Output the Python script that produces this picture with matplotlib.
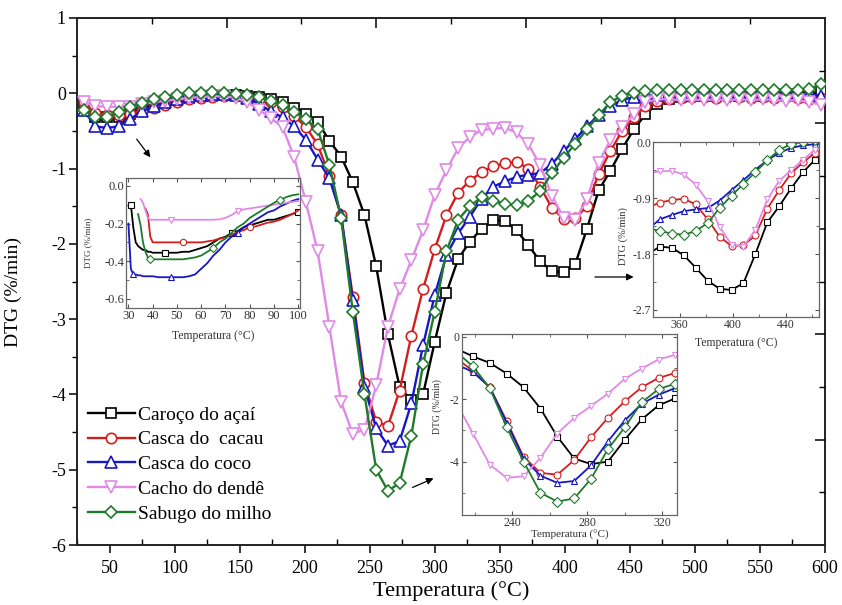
import numpy as np
import matplotlib
matplotlib.use("Agg")
import matplotlib.pyplot as plt
from matplotlib.ticker import MultipleLocator, FixedLocator, FormatStrFormatter

plt.rcParams['font.family'] = ['Liberation Serif', 'DejaVu Serif']
plt.rcParams['axes.unicode_minus'] = False

# ---------------- main DTG curves (°C, %/min) ----------------
temp = [30, 39, 48, 57, 66, 75, 84, 93, 102, 111, 120, 129, 138, 147, 156, 165,
        174, 183, 192, 201, 210, 219, 228, 237, 246, 255, 264, 273, 282, 291, 300, 309,
        318, 327, 336, 345, 354, 363, 372, 381, 390, 399, 408, 417, 426, 435, 444, 453,
        462, 471, 480, 489, 498, 507, 516, 525, 534, 543, 552, 561, 570, 579, 588, 597]

acai = [-0.15, -0.31, -0.32, -0.31, -0.27, -0.22, -0.17, -0.13, -0.09, -0.06, -0.04, -0.03, -0.02, -0.02, -0.03, -0.05,
        -0.08, -0.12, -0.19, -0.27, -0.38, -0.63, -0.84, -1.18, -1.62, -2.30, -3.20, -3.90, -4.08, -4.00, -3.30, -2.65,
        -2.20, -1.97, -1.80, -1.68, -1.70, -1.82, -2.02, -2.23, -2.36, -2.38, -2.27, -1.80, -1.29, -1.03, -0.74, -0.48,
        -0.28, -0.14, -0.08, -0.05, -0.04, -0.03, -0.03, -0.02, -0.03, -0.02, -0.03, -0.02, -0.03, -0.04, -0.05, 0.03]

cacau = [-0.12, -0.26, -0.29, -0.29, -0.27, -0.23, -0.19, -0.15, -0.11, -0.08, -0.06, -0.05, -0.04, -0.04, -0.05, -0.07,
         -0.11, -0.18, -0.30, -0.45, -0.68, -1.10, -1.62, -2.70, -3.85, -4.36, -4.42, -3.95, -3.22, -2.60, -2.07, -1.62,
         -1.32, -1.16, -1.05, -0.97, -0.93, -0.91, -1.00, -1.24, -1.52, -1.67, -1.66, -1.50, -1.07, -0.77, -0.50, -0.32,
         -0.17, -0.10, -0.07, -0.06, -0.05, -0.05, -0.06, -0.05, -0.05, -0.06, -0.05, -0.06, -0.05, -0.06, -0.07, -0.06]

coco = [-0.22, -0.44, -0.46, -0.44, -0.34, -0.24, -0.17, -0.11, -0.07, -0.04, -0.02, -0.01, -0.01, -0.02, -0.06, -0.14,
        -0.24, -0.32, -0.44, -0.62, -0.88, -1.13, -1.62, -2.75, -3.90, -4.45, -4.68, -4.62, -4.12, -3.35, -2.68, -2.15,
        -1.86, -1.64, -1.40, -1.24, -1.17, -1.11, -1.08, -1.06, -0.94, -0.77, -0.61, -0.44, -0.29, -0.17, -0.09, -0.05,
        -0.03, -0.02, -0.01, -0.01, 0.00, -0.01, 0.00, -0.01, 0.00, -0.01, 0.00, -0.01, 0.00, -0.01, -0.02, -0.03]

dende = [-0.12, -0.17, -0.18, -0.18, -0.18, -0.14, -0.12, -0.10, -0.08, -0.06, -0.05, -0.04, -0.04, -0.06, -0.12, -0.22,
         -0.33, -0.45, -0.85, -1.45, -2.10, -3.10, -4.10, -4.52, -4.47, -3.88, -3.10, -2.60, -2.22, -1.82, -1.35, -1.02,
         -0.73, -0.58, -0.49, -0.47, -0.46, -0.52, -0.68, -0.95, -1.36, -1.65, -1.68, -1.41, -0.92, -0.62, -0.45, -0.28,
         -0.12, -0.08, -0.08, -0.09, -0.08, -0.09, -0.08, -0.09, -0.08, -0.09, -0.08, -0.09, -0.10, -0.09, -0.12, -0.15]

milho = [-0.22, -0.32, -0.31, -0.25, -0.18, -0.13, -0.08, -0.05, -0.02, 0.00, 0.01, 0.015, 0.01, -0.01, -0.02, -0.05,
         -0.10, -0.16, -0.25, -0.34, -0.48, -0.95, -1.65, -2.90, -4.00, -5.00, -5.28, -5.18, -4.55, -3.60, -2.90, -2.10,
         -1.68, -1.50, -1.38, -1.43, -1.47, -1.49, -1.43, -1.30, -1.06, -0.86, -0.67, -0.48, -0.29, -0.12, -0.03, 0.01,
         0.03, 0.04, 0.04, 0.05, 0.04, 0.05, 0.04, 0.05, 0.04, 0.05, 0.04, 0.05, 0.05, 0.05, 0.06, 0.12]

# ---------------- detail of the 30-100 °C range ----------------
nan = np.nan
ins_temp = [30, 31, 32, 33, 34, 35, 36, 37, 38, 39, 40, 42.5, 45, 47.5, 50, 52.5, 55, 57.5,
            60, 62.5, 65, 67.5, 70, 72.5, 75, 77.5, 80, 82.5, 85, 87.5, 90, 92.5, 95, 97.5, 100]

ins_acai = [nan, -0.10, -0.22, -0.30, -0.32, -0.33, -0.34, -0.34, -0.35, -0.35, -0.355, -0.355, -0.355, -0.355,
            -0.355, -0.35, -0.35, -0.34, -0.33, -0.32, -0.30, -0.28, -0.27, -0.25, -0.24, -0.22, -0.21, -0.20,
            -0.19, -0.18, -0.18, -0.17, -0.16, -0.15, -0.14]
ins_cacau = [nan, nan, nan, nan, nan, nan, nan, -0.12, -0.15, -0.27, -0.30, -0.30, -0.30, -0.30, -0.30, -0.30,
             -0.30, -0.30, -0.30, -0.295, -0.29, -0.28, -0.275, -0.26, -0.245, -0.235, -0.22, -0.215, -0.205,
             -0.195, -0.19, -0.18, -0.165, -0.15, -0.13]
ins_coco = [-0.20, -0.44, -0.47, -0.47, -0.475, -0.475, -0.48, -0.48, -0.48, -0.48, -0.48, -0.485, -0.485, -0.485,
            -0.485, -0.485, -0.48, -0.47, -0.44, -0.41, -0.37, -0.34, -0.30, -0.27, -0.25, -0.22, -0.20, -0.18,
            -0.16, -0.14, -0.13, -0.11, -0.095, -0.08, -0.07]
ins_dende = [nan, nan, nan, nan, nan, -0.07, -0.09, -0.13, -0.17, -0.18, -0.18, -0.18, -0.18, -0.18, -0.18, -0.18,
             -0.18, -0.18, -0.18, -0.18, -0.18, -0.178, -0.17, -0.155, -0.135, -0.125, -0.12, -0.115, -0.11,
             -0.105, -0.10, -0.095, -0.09, -0.085, -0.08]
ins_milho = [nan, nan, nan, nan, -0.15, -0.21, -0.30, -0.35, -0.38, -0.39, -0.39, -0.39, -0.39, -0.39, -0.39,
             -0.39, -0.385, -0.38, -0.37, -0.35, -0.33, -0.30, -0.28, -0.25, -0.22, -0.20, -0.17, -0.15, -0.13,
             -0.11, -0.09, -0.075, -0.06, -0.05, -0.045]

labels = ['Caroço do açaí', 'Casca do  cacau', 'Casca do coco', 'Cacho do dendê', 'Sabugo do milho']
colors = ['#000000', '#d41e1e', '#1717c4', '#e189e6', '#1f7a2c']
markers = ['s', 'o', '^', 'v', 'D']
msizes = [6.5, 7.5, 8, 8, 6]

main_series = [acai, cacau, coco, dende, milho]
ins_series = [ins_acai, ins_cacau, ins_coco, ins_dende, ins_milho]

W, H = 842, 605
fig = plt.figure(figsize=(W / 100, H / 100), dpi=100)


def frac_box(left, top, right, bottom):
    """Figure-fraction rectangle from pixel edges (origin at top-left)."""
    return [left / W, (H - bottom) / H, (right - left) / W, (bottom - top) / H]


ax = fig.add_axes(frac_box(77, 18, 825, 545))
for y, c, m, ms, lab in zip(main_series, colors, markers, msizes, labels):
    ax.plot(temp, y, color=c, lw=1.7, marker=m, ms=ms, mfc='white', mec=c, mew=1.2,
            label=lab, zorder=3)

ax.set_xlim(25, 600)
ax.set_ylim(-6, 1)
ax.xaxis.set_major_locator(MultipleLocator(50))
ax.xaxis.set_minor_locator(MultipleLocator(25))
ax.yaxis.set_major_locator(MultipleLocator(1))
ax.yaxis.set_minor_locator(MultipleLocator(0.5))
ax.tick_params(axis='x', which='major', direction='out', length=6, width=1.1, labelsize=13, pad=5)
ax.tick_params(axis='x', which='minor', direction='in', length=4, width=1.0)
ax.tick_params(axis='y', which='major', direction='out', length=6, width=1.1, labelsize=13, pad=2)
ax.tick_params(axis='y', which='minor', direction='out', length=3.5, width=1.0)
for s in ax.spines.values():
    s.set_linewidth(1.4)
    s.set_color('#222222')

ax.set_xlabel('Temperatura (°C)', fontsize=16)
ax.xaxis.set_label_coords(0.5, -0.068)
ax.set_ylabel('DTG (%/min)', fontsize=14)
ax.yaxis.set_label_coords(-0.073, 0.48)

ax.legend(loc='upper left', bbox_to_anchor=(88 / W, (H - 406) / H), bbox_transform=fig.transFigure,
          frameon=False, fontsize=14, handlelength=2.4, handletextpad=0.15, labelspacing=0.37,
          borderpad=0, borderaxespad=0)

# pointers from the main curves to the detail panels
arrow_kw = dict(arrowstyle='-|>', color='black', lw=0.9, mutation_scale=10)
ax.annotate('', xy=(82.7, -0.88), xytext=(69.6, -0.58), arrowprops=arrow_kw, zorder=5)
ax.annotate('', xy=(455, -2.44), xytext=(421, -2.44), arrowprops=arrow_kw, zorder=5)
ax.annotate('', xy=(301, -5.10), xytext=(281, -5.25), arrowprops=arrow_kw, zorder=5)

# tick marks of the top / right frame
axf = fig.add_axes(frac_box(77, 18, 825, 545), frameon=False)
axf.set_xlim(0, 10)
axf.set_ylim(0, 10)
axf.xaxis.tick_top()
axf.yaxis.tick_right()
axf.xaxis.set_major_locator(FixedLocator([2, 4, 6, 8]))
axf.xaxis.set_minor_locator(FixedLocator([1, 3, 5, 7, 9]))
axf.yaxis.set_major_locator(FixedLocator([2, 4, 6, 8]))
axf.yaxis.set_minor_locator(FixedLocator([1, 3, 5, 7, 9]))
axf.tick_params(which='major', direction='in', length=7, width=1.1, labeltop=False, labelright=False)
axf.tick_params(which='minor', direction='in', length=4, width=1.0)
axf.set_xticklabels([])
axf.set_yticklabels([])

ins_text = '#333333'


def style_inset(a, tick_size):
    for s in a.spines.values():
        s.set_linewidth(0.9)
        s.set_color('#666666')
    a.tick_params(which='both', direction='in', top=True, right=True, colors='#555555',
                  labelcolor=ins_text, labelsize=tick_size, pad=1.5)
    a.tick_params(which='major', length=3)
    a.tick_params(which='minor', length=2)


# inset: 30-100 °C
ax1 = fig.add_axes(frac_box(126, 178.3, 300, 308.3))
offsets = [1, 15, 2, 13, 9]
for y, c, m, off in zip(ins_series, colors, markers, offsets):
    ax1.plot(ins_temp, y, color=c, lw=1.3, marker=m, ms=4.5, mfc='white', mec=c, mew=0.8,
             markevery=(off, 11))
ax1.set_xlim(29, 100.7)
ax1.set_ylim(-0.65, 0.04)
ax1.xaxis.set_major_locator(MultipleLocator(10))
ax1.yaxis.set_major_locator(FixedLocator([0.0, -0.2, -0.4, -0.6]))
ax1.yaxis.set_minor_locator(FixedLocator([-0.1, -0.3, -0.5]))
ax1.yaxis.set_major_formatter(FormatStrFormatter('%.1f'))
style_inset(ax1, 9)
ax1.set_xlabel('Temperatura (°C)', fontsize=8.5, color=ins_text)
ax1.xaxis.set_label_coords(0.5, -0.21)
ax1.xaxis.label.set_va('center')
ax1.set_ylabel('DTG (%/min)', fontsize=6.5, color=ins_text)
ax1.yaxis.set_label_coords(-0.197, 0.5)

# inset: 213-328 °C
ax2 = fig.add_axes(frac_box(461.7, 333.6, 677.3, 515))
for y, c, m in zip(main_series, colors, markers):
    ax2.plot(temp, y, color=c, lw=1.3, marker=m, ms=5, mfc='white', mec=c, mew=0.8)
ax2.set_xlim(213, 328)
ax2.set_ylim(-5.71, 0.1)
ax2.xaxis.set_major_locator(FixedLocator([240, 280, 320]))
ax2.xaxis.set_minor_locator(FixedLocator([220, 260, 300]))
ax2.yaxis.set_major_locator(FixedLocator([0, -2, -4]))
ax2.yaxis.set_minor_locator(FixedLocator([-1, -3, -5]))
style_inset(ax2, 8.5)
ax2.set_xlabel('Temperatura (°C)', fontsize=8, color=ins_text)
ax2.xaxis.set_label_coords(0.5, -0.108)
ax2.xaxis.label.set_va('center')
ax2.set_ylabel('DTG (%/min)', fontsize=7, color=ins_text)
ax2.yaxis.set_label_coords(-0.09, 0.6)

# inset: 340-465 °C
ax3 = fig.add_axes(frac_box(653.3, 141.7, 819, 316.7))
for y, c, m in zip(main_series, colors, markers):
    ax3.plot(temp, y, color=c, lw=1.3, marker=m, ms=5, mfc='white', mec=c, mew=0.8)
ax3.set_xlim(340, 465)
ax3.set_ylim(-2.81, 0.01)
ax3.xaxis.set_major_locator(FixedLocator([360, 400, 440]))
ax3.xaxis.set_minor_locator(FixedLocator([380, 420, 460]))
ax3.yaxis.set_major_locator(FixedLocator([0.0, -0.9, -1.8, -2.7]))
ax3.yaxis.set_minor_locator(FixedLocator([-0.45, -1.35, -2.25]))
ax3.yaxis.set_major_formatter(FormatStrFormatter('%.1f'))
style_inset(ax3, 8.5)
ax3.set_xlabel('Temperatura (°C)', fontsize=8.5, color=ins_text)
ax3.xaxis.set_label_coords(0.5, -0.152)
ax3.xaxis.label.set_va('center')
ax3.set_ylabel('DTG (%/min)', fontsize=7.5, color=ins_text)
ax3.yaxis.set_label_coords(-0.153, 0.46)

fig.savefig('out.png', dpi=100)
